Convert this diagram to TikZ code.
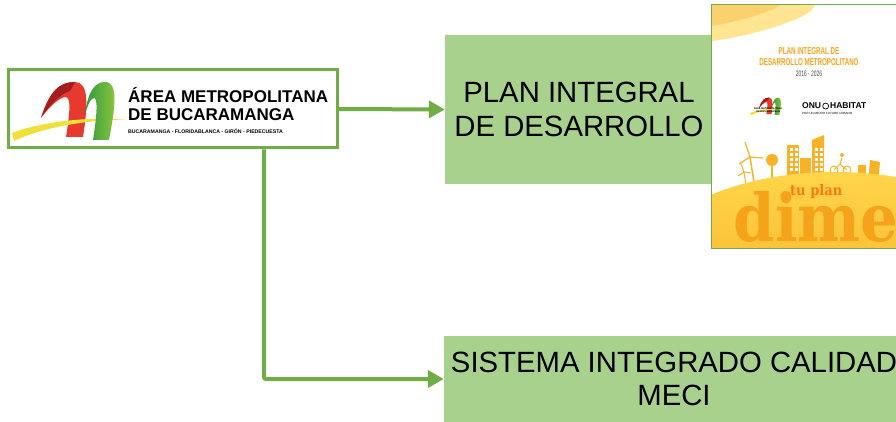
\documentclass[tikz,border=0pt]{standalone}
\usepackage{fontspec}
\setmainfont{Liberation Sans}
\newfontfamily\condfont[FakeStretch=0.62]{Liberation Sans}
\newfontfamily\dimefont[FakeStretch=0.9]{DejaVu Serif}
\usetikzlibrary{positioning, arrows.meta}

\definecolor{ambgreen}{HTML}{70AD47}
\definecolor{boxgreen}{HTML}{A9D18E}
\definecolor{ambred}{HTML}{E63A2E}
\definecolor{ambdarkred}{HTML}{A51C1E}
\definecolor{ambleaf}{HTML}{2E9B3E}
\definecolor{amblime}{HTML}{96C93D}
\definecolor{ambyellow}{HTML}{F0E03A}
\definecolor{dimeyellow}{HTML}{FFD54A}
\definecolor{dimeorange}{HTML}{F5A31A}
\colorlet{skyline}{dimeorange!70!dimeyellow}

\tikzset{
  ambmark/.pic={
    % red arch
    \fill[ambred] (33,48) .. controls (42,20) and (52,12) .. (67,12)
      .. controls (81,12) and (80,35) .. (75,67) -- (58,67)
      .. controls (62,42) and (63,28) .. (58,27)
      .. controls (52,27) and (42,36) .. cycle;
    \fill[ambdarkred] (33,48) .. controls (42,20) and (52,12) .. (67,12)
      -- (62,21) .. controls (54,23) and (42,34) .. cycle;
    % yellow swoosh
    \fill[ambyellow] (4,63) .. controls (32,52) and (82,46) .. (118,50)
      .. controls (82,49) and (32,58) .. (6,71) -- cycle;
    % green arch
    \shade[left color=ambleaf, right color=amblime] (77,44)
      .. controls (80,21) and (87,12) .. (97,12)
      .. controls (111,12) and (107,38) .. (101,70) -- (85,70)
      .. controls (89,45) and (90,28) .. (86,28)
      .. controls (82,28) and (80,36) .. cycle;
  }
}

\begin{document}
\begin{tikzpicture}[x=1pt, y=-1pt, >={Triangle[length=16pt, width=17pt]},
    box/.style={fill=boxgreen, inner sep=0pt, align=center, font=\fontsize{29.3}{33.5}\selectfont},
    link/.style={->, draw=ambgreen, line width=4pt}]

    \useasboundingbox (0,0) rectangle (896,422);

    % Logo box
    \node (logo) [draw=ambgreen, line width=3pt, fill=white, minimum width=329pt, minimum height=78pt] at (172.5,109) {};
    \pic at (8,70) {ambmark};
    \node (ambname) [anchor=base west, inner sep=0pt, font=\bfseries\fontsize{17}{18}\selectfont] at (128,103) {ÁREA METROPOLITANA};
    \node (ambcity) [anchor=base west, inner sep=0pt, font=\bfseries\fontsize{17}{18}\selectfont] at (128,121) {DE BUCARAMANGA};
    \node (ambtowns) [anchor=base west, inner sep=0pt, font=\bfseries\fontsize{5.2}{6}\selectfont] at (128,134) {BUCARAMANGA - FLORIDABLANCA - GIRÓN - PIEDECUESTA};

    % Right column boxes
    \node (plan) [box, minimum width=268pt, minimum height=149pt] at (579,109.5) {PLAN INTEGRAL\\DE DESARROLLO};
    \node (meci) [box, minimum width=460pt, minimum height=86pt] at (674,379) {SISTEMA INTEGRADO CALIDAD\\MECI};

    % Plan cover
    \node (cover) [fill=white, inner sep=0pt, minimum width=186pt, minimum height=243pt] at (805,126.5) {};
    \begin{scope}
        \clip (cover.south west) rectangle (cover.north east);
        \fill[dimeyellow, opacity=0.6] (712,5) -- (815,5) .. controls (812,14) and (795,20) .. (775,27)
            .. controls (755,33) and (735,38) .. (712,41) -- cycle;
        \fill[dimeorange, opacity=0.3] (712,5) -- (780,5) .. controls (770,12) and (745,20) .. (712,26) -- cycle;

        \node (covertitle) [anchor=base, inner sep=0pt, text=dimeorange, font=\condfont\bfseries\fontsize{10}{11}\selectfont] at (809,55) {PLAN INTEGRAL DE};
        \node (coversub) [anchor=base, inner sep=0pt, text=dimeorange, font=\condfont\bfseries\fontsize{10}{11}\selectfont] at (809,65.5) {DESARROLLO METROPOLITANO};
        \node (coveryears) [anchor=base, inner sep=0pt, text=black!70, font=\condfont\fontsize{8}{9}\selectfont] at (809,77) {2016 - 2026};

        % partner logos
        \pic[scale=0.3] at (749,94) {ambmark};
        \node (minname) [anchor=base, inner sep=0pt, font=\bfseries\fontsize{2.4}{2.6}\selectfont] at (768,110) {ÁREA METROPOLITANA};
        \node (mincity) [anchor=base, inner sep=0pt, font=\bfseries\fontsize{2.4}{2.6}\selectfont] at (768,113) {DE BUCARAMANGA};
        \node (onu) [anchor=base west, inner sep=0pt, font=\bfseries\fontsize{8.5}{9}\selectfont] at (802,109) {ONU};
        \node (unlogo) [circle, draw, line width=0.7pt, minimum size=6pt, inner sep=0pt, right=1pt of onu] {};
        \node (habitat) [right=1pt of unlogo, inner sep=0pt, font=\bfseries\fontsize{8.5}{9}\selectfont] {HABITAT};
        \node (onutag) [anchor=base west, inner sep=0pt, font=\fontsize{3}{3.5}\selectfont] at (802,114.5) {POR UN MEJOR FUTURO URBANO};

        % skyline
        \draw[skyline, line width=1.5pt] (750,157) -- (754,182);
        \draw[skyline, line width=1.2pt] (750,157) -- (745,142) (750,157) -- (763,158) (750,157) -- (739,164);
        \draw[skyline, line width=1pt] (744,172) -- (746,186) (744,172) -- (741,164) (744,172) -- (751,173) (744,172) -- (738,176);
        \fill[skyline] (772,160) circle (6);
        \draw[skyline, line width=1.5pt] (772,162) -- (772,180);
        \fill[skyline] (787,145) rectangle (799,178);
        \fill[skyline] (800,158) rectangle (811,178);
        \fill[skyline] (812,140) -- (824,135) -- (824,178) -- (812,178) -- cycle;
        \foreach \wy in {148,153,...,168} {
            \fill[white] (789.5,\wy) rectangle ++(3,3);
            \fill[white] (794.5,\wy) rectangle ++(3,3);
            \fill[white] (814.5,\wy) rectangle ++(3,3);
            \fill[white] (819.5,\wy) rectangle ++(3,3);
        }
        \draw[skyline, line width=1pt] (834,170) circle (4) (847,170) circle (4)
            (834,170) -- (840,164) -- (847,170) (840,164) -- (842,158);
        \fill[skyline] (842,155) circle (2);
        \fill[skyline] (858,165) rectangle (866,182);
        \fill[skyline] (870,160) -- (880,162) -- (878,185) -- (868,184) -- cycle;

        % sphere and slogan
        \shade[top color=dimeyellow, bottom color=dimeorange] (835,278) ellipse [x radius=200, y radius=106];
        \node (tuplan) [anchor=base west, inner sep=0pt, text=dimeorange!75!red, font=\dimefont\bfseries\fontsize{14.5}{15}\selectfont] at (790,196) {tu plan};
        \node (dimed) [anchor=base west, inner sep=0pt, text=dimeorange, font=\dimefont\bfseries\fontsize{66}{66}\selectfont] at (733,241) {d};
        \node (dimeime) [anchor=base west, inner sep=0pt, text=dimeorange, font=\dimefont\bfseries\fontsize{66}{66}\selectfont] at (dimed.base east) {ime};
    \end{scope}
    \draw[ambgreen, line width=1.2pt] (cover.south west) rectangle (cover.north east);

    % Arrows from the logo to the right boxes
    \coordinate (drop) at (264,0);
    \draw[link] (logo.east) -- (plan.west);
    \draw[link, rounded corners=2pt] (logo.south -| drop) |- (meci.west);

\end{tikzpicture}
\end{document}
